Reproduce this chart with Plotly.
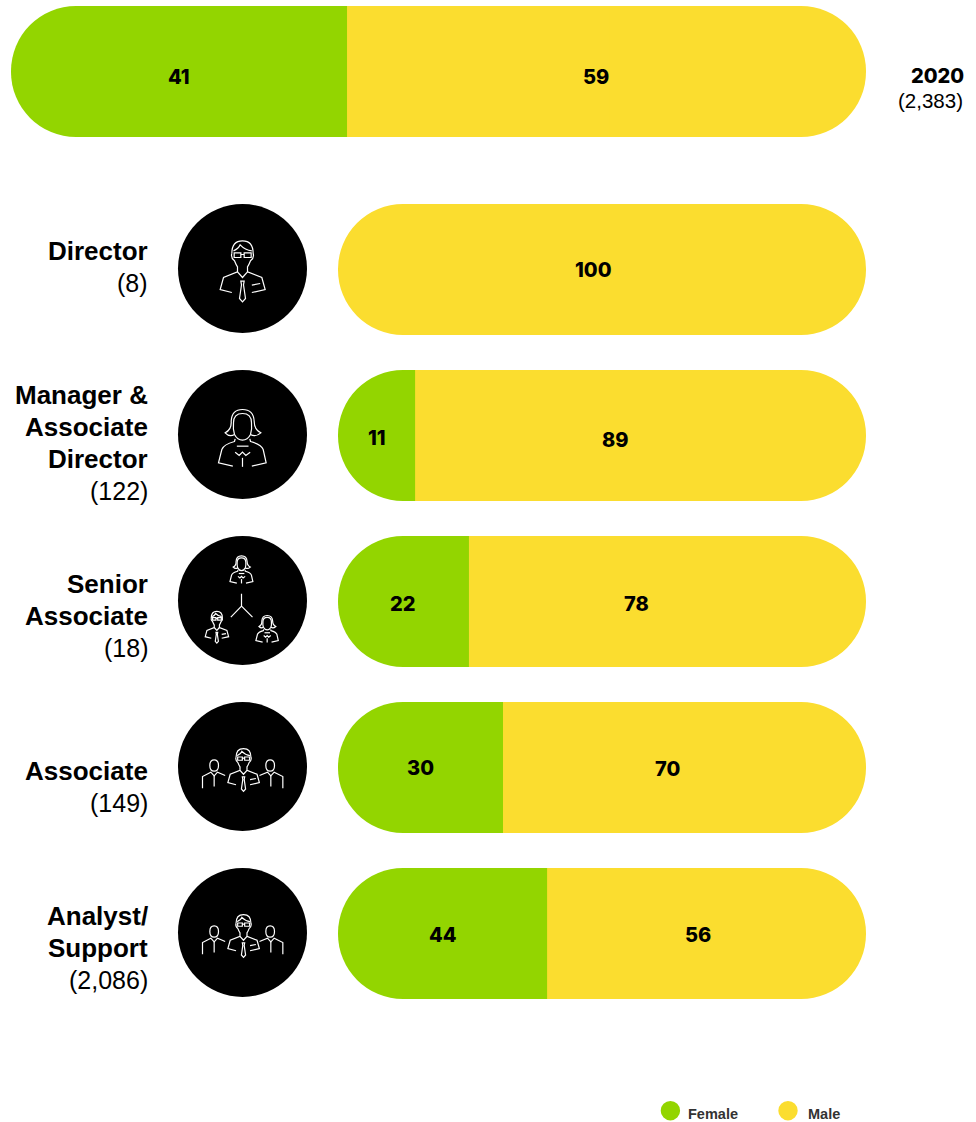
import re
import plotly.graph_objects as go

W, H = 976, 1122
GREEN, YELLOW = "#93D500", "#FBDD2F"
NUM_FONT = dict(family="Inter", size=20, color="#000", weight=800)
PILL_R = 65.5

# ---- data ----
total_label = "2020"
total_count = "(2,383)"
total_female_label = 41
total_male_label = 59
total_female_drawn = [39.3]          # drawn length of the green part, % of pill
total_male_label_at = [68.4]

grades = [["Director"], ["Manager &", "Associate", "Director"], ["Senior", "Associate"], ["Associate"], ["Analyst/", "Support"]]
counts = ["(8)", "(122)", "(18)", "(149)", "(2,086)"]
female_labels = [0, 11, 22, 30, 44]
male_labels = [100, 89, 78, 70, 56]
female_drawn = [0, 14.6, 24.8, 31.25, 39.6]  # drawn length of the green part, % of pill
male_label_at = [48.3, 52.5, 56.5, 62.4, 68.2]
number_yshift = [0, -2, -2, 0, -1]
male_number_yshift = [0, -4, -2, -1, -1]
label_first_line = [251, 395, 584, 771, 916]
icon_names = ["man", "woman", "tree", "team", "team"]

rows = list(range(len(grades)))


def px(x, y):
    return x / W, 1 - y / H


# ---- icon line art, in a 3x local frame ----
def oval(cx, cy, rx, ry):
    return (f"M {cx-rx} {cy} Q {cx-rx} {cy-ry} {cx} {cy-ry} Q {cx+rx} {cy-ry} {cx+rx} {cy} "
            f"Q {cx+rx} {cy+ry} {cx} {cy+ry} Q {cx-rx} {cy+ry} {cx-rx} {cy}")


MAN = [
    "M 185 160 Q 185 122 217 122 Q 249 122 249 160 Q 253 172 241 182 Q 236 195 232 200 L 232 215 L 275 232 L 285 268 L 245 277",
    "M 185 160 Q 181 172 193 182 Q 198 195 202 200 L 202 215 L 160 232 L 150 268 L 185 277",
    "M 190 152 Q 205 146 210 134 Q 225 150 245 152",
    "M 192 158 L 212 158 L 212 172 L 192 172 Z M 222 158 L 243 158 L 243 172 L 222 172 Z M 212 163 L 222 163",
    "M 202 215 L 217 232 L 232 215",
    "M 212 243 L 222 243 L 220 254 L 226 295 L 217 305 L 208 295 L 214 254 Z",
    "M 245 255 L 270 250",
]
WOMAN = [
    "M 193 205 Q 178 214 165 200 Q 185 190 183 165 Q 185 130 217 130 Q 250 130 252 165 Q 252 190 272 200 Q 256 214 241 205",
    "M 193 205 Q 188 190 190 170 Q 190 142 217 142 Q 244 142 244 170 Q 246 190 241 205 Q 232 222 217 222 Q 202 222 193 205",
    "M 195 218 L 193 226 Q 160 235 155 250 L 145 290 L 188 300",
    "M 239 218 L 241 226 Q 274 235 279 250 L 288 290 L 245 300",
    "M 200 240 L 235 240",
    "M 195 258 L 207 268 L 217 258 L 227 268 L 240 258",
    "M 217 275 L 217 302",
]
SIDE = [
    oval(132, 202, 13, 17),
    "M 97 270 L 97 235 L 122 222 L 132 233 L 142 222 L 165 232",
    "M 132 233 L 132 265",
    oval(300, 202, 13, 17),
    "M 338 270 L 338 235 L 312 222 L 302 233 L 292 222 L 268 232",
    "M 302 233 L 302 265",
]
TREE = ["M 214 185 L 214 222 M 214 222 L 182 255 M 214 222 L 247 255"]


def place(path, scale, from_xy, to_xy, circle_xy):
    """Map a local 3x icon path onto the page as a paper-referenced path."""
    out = re.findall(r"[MLQZ]|-?[\d.]+", path)
    res, i = [], 0
    while i < len(out):
        t = out[i]
        if t in "MLQ":
            res.append(t)
            i += 1
            while i < len(out) and out[i] not in "MLQZ":
                lx = to_xy[0] + (float(out[i]) - from_xy[0]) * scale
                ly = to_xy[1] + (float(out[i + 1]) - from_xy[1]) * scale
                x, y = px(circle_xy[0] + (lx - 217) / 3, circle_xy[1] + (ly - 205) / 3)
                res.append(f"{x:.5f},{y:.5f}")
                i += 2
        else:
            res.append(t)
            i += 1
    return " ".join(res)


ICONS = {
    "man": [(MAN, 1.0, (217, 205), (217, 205))],
    "woman": [(WOMAN, 1.0, (217, 205), (217, 205))],
    "tree": [
        (WOMAN, 0.48, (217, 215), (214, 112)),
        (MAN, 0.52, (217, 213), (140, 285)),
        (WOMAN, 0.47, (217, 215), (291, 290)),
        (TREE, 1.0, (217, 205), (217, 205)),
    ],
    "team": [
        (MAN, 0.7, (217, 213), (220, 215)),
        (SIDE, 1.0, (217, 205), (217, 205)),
    ],
}

fig = go.Figure()
round_y = dict(color=YELLOW, cornerradius=PILL_R)
round_g = dict(color=GREEN, cornerradius=PILL_R)
square_y = dict(color=YELLOW)
GREEN_END = 60     # green pill runs to here, under the cover, so its rounded end never shows
YELLOW_START = 45  # yellow pill starts here when the row has a green part
COVER_END = 70     # the square yellow cover hides both rounded ends and sets the green/yellow edge

# top pill
t = dict(xaxis="x2", yaxis="y2", orientation="h", hoverinfo="skip", width=1, marker_line_width=0)
fig.add_bar(y=[0], x=[100 - YELLOW_START], base=[YELLOW_START], marker=round_y, **t)
fig.add_bar(y=[0], x=[GREEN_END], base=[0], marker=round_g, **t)
fig.add_bar(y=[0], x=[COVER_END - total_female_drawn[0]], base=total_female_drawn, marker=square_y, **t)

# grade pills, same three layers
c = dict(orientation="h", hoverinfo="skip", marker_line_width=0)
with_women = [i for i in rows if female_drawn[i] > 0]
yellow_base = [YELLOW_START if f > 0 else 0 for f in female_drawn]
fig.add_bar(y=rows, x=[100 - b for b in yellow_base], base=yellow_base, marker=round_y, **c)
fig.add_bar(y=with_women, x=[GREEN_END] * len(with_women), base=[0] * len(with_women), marker=round_g, **c)
fig.add_bar(y=with_women, x=[COVER_END - female_drawn[i] for i in with_women], base=[female_drawn[i] for i in with_women],
            marker=square_y, **c)

ann = []
ann.append(dict(x=total_female_drawn[0] / 2, y=0, xref="x2", yref="y2", text=str(total_female_label), showarrow=False, font=NUM_FONT, yshift=-5))
ann.append(dict(x=total_male_label_at[0], y=0, xref="x2", yref="y2", text=str(total_male_label), showarrow=False, font=NUM_FONT, yshift=-5))
for i in rows:
    if female_labels[i]:
        ann.append(dict(x=female_drawn[i] / 2, y=i, xref="x", yref="y", text=str(female_labels[i]), showarrow=False, font=NUM_FONT, yshift=number_yshift[i]))
    ann.append(dict(x=male_label_at[i], y=i, xref="x", yref="y", text=str(male_labels[i]), showarrow=False, font=NUM_FONT, yshift=male_number_yshift[i]))

# row labels, one annotation per line to get the tight 32px leading
for i in rows:
    lines = [f"<b>{s}</b>" for s in grades[i]] + [counts[i]]
    for k, s in enumerate(lines):
        x, y = px(150, label_first_line[i] + 32 * k)
        size = 26 if k < len(grades[i]) else 25
        ann.append(dict(x=x, y=y, xref="paper", yref="paper", xanchor="right", yanchor="middle", showarrow=False,
                        text=s, font=dict(family="Liberation Sans", size=size, color="#000")))

x, y = px(965.5, 76)
ann.append(dict(x=x, y=y, xref="paper", yref="paper", xanchor="right", yanchor="middle", showarrow=False, text=total_label,
                font=dict(family="Inter", size=20, color="#000", weight=800)))
x, y = px(965, 101)
ann.append(dict(x=x, y=y, xref="paper", yref="paper", xanchor="right", yanchor="middle", showarrow=False, text=total_count,
                font=dict(family="Liberation Sans", size=20.5, color="#000")))

shapes = []
for name, colour, cx, tx, size in [("Female", GREEN, 670.4, 686, 14.5), ("Male", YELLOW, 788, 805.5, 14.5)]:
    x0, y0 = px(cx - 9.7, 1101)
    x1, y1 = px(cx + 9.7, 1120.4)
    shapes.append(dict(type="circle", xref="paper", yref="paper", x0=x0, x1=x1, y0=y0, y1=y1, fillcolor=colour, line_width=0))
    x, y = px(tx, 1113.5)
    ann.append(dict(x=x, y=y, xref="paper", yref="paper", xanchor="left", yanchor="middle", showarrow=False, text=f"<b>{name}</b>",
                    font=dict(family="Liberation Sans", size=size, color="#333333")))

for i in rows:
    cx, cy = 242.5, 268.5 + 166 * i
    x0, y0 = px(cx - 64.5, cy - 64.5)
    x1, y1 = px(cx + 64.5, cy + 64.5)
    shapes.append(dict(type="circle", xref="paper", yref="paper", x0=x0, x1=x1, y0=y1, y1=y0, fillcolor="#000", line_width=0))
    for paths, scale, src, dst in ICONS[icon_names[i]]:
        for p in paths:
            shapes.append(dict(type="path", xref="paper", yref="paper",
                               path=place(p, scale, src, dst, (cx, cy)),
                               line=dict(color="#fff", width=1.2)))

hidden = dict(visible=False, showgrid=False, zeroline=False, fixedrange=True)
fig.update_layout(
    width=W, height=H, margin=dict(l=0, r=0, t=0, b=0, pad=0), showlegend=False,
    paper_bgcolor="#fff", plot_bgcolor="rgba(0,0,0,0)", barmode="overlay", bargap=1 - 131 / 166,
    xaxis=dict(domain=[338 / W, 866 / W], range=[0, 100], **hidden),
    yaxis=dict(domain=[1 - 1016.5 / H, 1 - 186.5 / H], range=[4.5, -0.5], **hidden),
    xaxis2=dict(domain=[11 / W, 866 / W], range=[0, 100], anchor="y2", **hidden),
    yaxis2=dict(domain=[1 - 137 / H, 1 - 6 / H], range=[-0.5, 0.5], anchor="x2", **hidden),
    annotations=ann, shapes=shapes,
)

fig.write_html("out.html", config=dict(displayModeBar=False),
               post_script="document.body.style.margin='0';")
